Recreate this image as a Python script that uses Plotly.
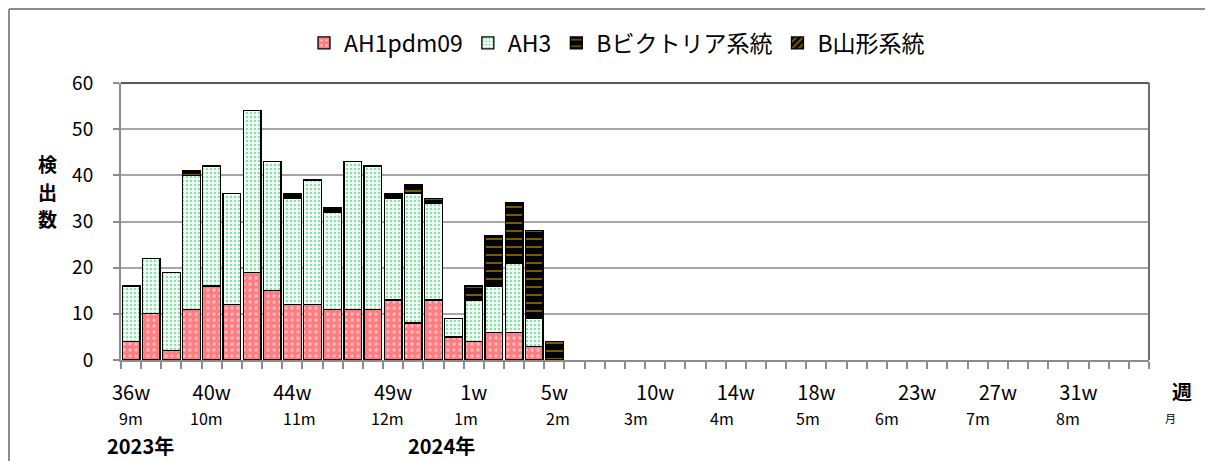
import plotly.graph_objects as go

# ---- data ----
weeks = list(range(36, 53)) + list(range(1, 35))
ah1pdm09 = [4, 10, 2, 11, 16, 12, 19, 15, 12, 12, 11, 11, 11, 13, 8, 13, 5, 4, 6, 6, 3, 0]
ah3 = [12, 12, 17, 29, 26, 24, 35, 28, 23, 27, 21, 32, 31, 22, 28, 21, 4, 9, 10, 15, 6, 0]
b_victoria = [0, 0, 0, 1, 0, 0, 0, 0, 1, 0, 1, 0, 0, 1, 2, 1, 0, 3, 11, 13, 19, 4]
b_yamagata = [0] * 22
week_label_weeks = [36, 40, 44, 49, 1, 5, 10, 14, 18, 23, 27, 31]
month_labels = ["9m", "10m", "11m", "12m", "1m", "2m", "3m", "4m", "5m", "6m", "7m", "8m"]
month_pos = [0, 3.75, 8.35, 12.7, 16.6, 21.2, 25.05, 29.3, 33.6, 37.5, 42, 46.5]
y_title_chars = ["検", "出", "数"]

FONT = "Noto Sans CJK JP"
n = len(weeks)
x = list(range(n))


def series(vals):
    vals = list(vals) + [None] * (n - len(vals))
    return [v if v else None for v in vals]


fig = go.Figure()
fig.add_bar(x=x, y=series(ah1pdm09), name="AH1pdm09",
            marker=dict(color="#FF7C80", line=dict(color="black", width=1.3),
                        pattern=dict(shape=".", bgcolor="#FF7C80", fgcolor="white",
                                     size=6, solidity=0.25, fillmode="overlay")))
fig.add_bar(x=x, y=series(ah3), name="AH3",
            marker=dict(color="white", line=dict(color="black", width=1.3),
                        pattern=dict(shape=".", bgcolor="#F6FFF9", fgcolor="#1DBE60",
                                     size=4, solidity=0.35, fillmode="overlay")))
fig.add_bar(x=x, y=series(b_victoria), name="Bビクトリア系統",
            marker=dict(color="black", line=dict(color="black", width=1.3),
                        pattern=dict(shape="-", bgcolor="black", fgcolor="#F2B400",
                                     size=8, solidity=0.25, fillmode="overlay")))
fig.add_bar(x=x, y=series(b_yamagata), name="B山形系統",
            marker=dict(color="black", line=dict(color="black", width=1.3),
                        pattern=dict(shape="/", bgcolor="black", fgcolor="#F2B400",
                                     size=6, solidity=0.45, fillmode="overlay")))

# page offset: the html body adds 8px margin
OFF = 8
W, H = 1213 - OFF, 461 - OFF
PL, PR, PT, PB = 121, 1149, 83, 360  # plot area in page pixels
L, R, T, B = PL - OFF, W - (PR - OFF), PT - OFF, H - (PB - OFF)
pw, ph = W - L - R, H - T - B


def px(xp):
    return (xp - OFF - L) / pw


def py(yp):
    return (H - B - (yp - OFF)) / ph


tickvals = [weeks.index(w) for w in week_label_weeks]
ticktext = [f"{w}w" for w in week_label_weeks]

fig.update_layout(
    width=W, height=H, barmode="stack", bargap=0.12,
    margin=dict(l=L, r=R, t=T, b=B, autoexpand=False),
    paper_bgcolor="white", plot_bgcolor="white",
    font=dict(family=FONT, color="black"),
    showlegend=True,
    legend=dict(orientation="h", x=px(617), xanchor="center", y=py(43), yanchor="middle",
                font=dict(size=23, family=FONT), traceorder="normal",
                itemwidth=30),
    xaxis=dict(range=[-0.5, n - 0.5], tickmode="array", tickvals=tickvals, ticktext=ticktext,
               ticks="", showgrid=False, showline=True, linecolor="#8C8C8C", linewidth=2,
               tickfont=dict(size=20, family=FONT), ticklabelstandoff=14,
               minor=dict(tick0=-0.5, dtick=1, ticks="outside", ticklen=7,
                          tickcolor="#8C8C8C", tickwidth=1.5, showgrid=False),
               zeroline=False),
    yaxis=dict(range=[0, 60], dtick=10, ticks="outside", ticklen=6, tickcolor="#8C8C8C",
               tickwidth=1.5, showgrid=True, gridcolor="#A6A6A6", gridwidth=2,
               showline=True, linecolor="#8C8C8C", linewidth=2, zeroline=False,
               tickfont=dict(size=19, family=FONT), ticklabelstandoff=16),
)

# plot frame top/right
fig.add_shape(type="line", xref="paper", yref="paper", x0=0, x1=1, y0=1, y1=1,
              line=dict(color="#595959", width=2))
fig.add_shape(type="line", xref="paper", yref="paper", x0=1, x1=1, y0=0, y1=1,
              line=dict(color="#6E6E6E", width=2))
# outer chart border (left and top)
fig.add_shape(type="line", xref="paper", yref="paper", x0=px(9), x1=px(9), y0=py(9), y1=py(470),
              line=dict(color="#8C8C8C", width=2))
fig.add_shape(type="line", xref="paper", yref="paper", x0=px(9), x1=px(1230), y0=py(9), y1=py(9),
              line=dict(color="#8C8C8C", width=2))

for lab, pos in zip(month_labels, month_pos):
    fig.add_annotation(x=pos, y=py(418), xref="x", yref="paper", text=lab, showarrow=False,
                       font=dict(size=16, family=FONT), xanchor="center", yanchor="middle")

for i, ch in enumerate(y_title_chars):
    fig.add_annotation(x=px(47), y=py(163.5 + 27.5 * i), xref="paper", yref="paper", text=ch,
                       showarrow=False, font=dict(size=19, family=FONT, weight="bold"),
                       xanchor="center", yanchor="middle")
fig.add_annotation(x=px(1182), y=py(391), xref="paper", yref="paper", text="週",
                   showarrow=False, font=dict(size=20, family=FONT, weight="bold"),
                   xanchor="center", yanchor="middle")
fig.add_annotation(x=px(1170), y=py(418), xref="paper", yref="paper", text="月",
                   showarrow=False, font=dict(size=11, family=FONT),
                   xanchor="center", yanchor="middle")
fig.add_annotation(x=px(140), y=py(445), xref="paper", yref="paper", text="2023年",
                   showarrow=False, font=dict(size=20, family=FONT, weight="bold"),
                   xanchor="center", yanchor="middle")
fig.add_annotation(x=px(441), y=py(445), xref="paper", yref="paper", text="2024年",
                   showarrow=False, font=dict(size=20, family=FONT, weight="bold"),
                   xanchor="center", yanchor="middle")

fig.write_html("out.html")
